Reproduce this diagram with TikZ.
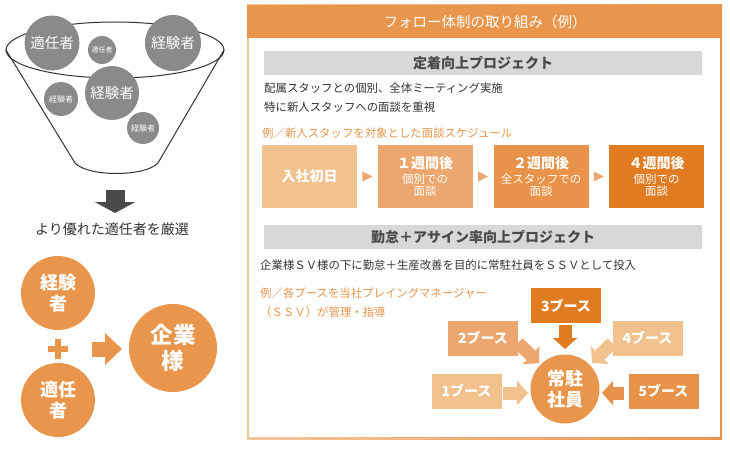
\documentclass[tikz,border=0pt]{standalone}
\usepackage{fontspec}
\setmainfont{Noto Sans CJK JP}
\usetikzlibrary{arrows.meta}
\definecolor{hdr}{HTML}{E9954B}
\definecolor{cA}{HTML}{F2C28E}
\definecolor{cB}{HTML}{EDA66E}
\definecolor{cC}{HTML}{E89349}
\definecolor{cD}{HTML}{E07B22}
\definecolor{tri}{HTML}{EDA66E}
\definecolor{barg}{HTML}{D7D8D8}
\definecolor{darkt}{HTML}{4A4A4A}
\definecolor{bodyt}{HTML}{333333}
\definecolor{gcirc}{HTML}{8A8A8A}
\definecolor{darr}{HTML}{4A4A4A}
\definecolor{frameL}{HTML}{F3C69D}
\definecolor{frameR}{HTML}{E9954B}
\tikzset{
  fsz/.style={font=\fontsize{#1}{#1}\selectfont},
  gc/.style={circle, fill=gcirc, text=white, inner sep=0pt},
  oc/.style={circle, fill=hdr, text=white, inner sep=0pt, align=center},
  sbox/.style={rectangle, inner sep=0pt, text=white, align=center, minimum width=95pt, minimum height=63pt},
  booth/.style={rectangle, inner sep=0pt, text=white, minimum width=70pt, minimum height=35pt, font=\fontsize{14}{16}\selectfont\bfseries},
  gbar/.style={rectangle, fill=barg, inner sep=0pt, minimum width=438pt, minimum height=24pt, text=darkt, font=\fontsize{14}{16}\selectfont\bfseries},
  body/.style={anchor=west, inner sep=0pt, text=bodyt, font=\fontsize{11.4}{13}\selectfont},
  obody/.style={anchor=west, inner sep=0pt, text=hdr, font=\fontsize{11.4}{13}\selectfont},
  barrow/.style={line width=13pt, -{Triangle[width=24pt,length=11pt]}},
}
\begin{document}
\begin{tikzpicture}[x=1pt,y=-1pt]
\useasboundingbox (0,0) rectangle (730,449);
% ---------- funnel ----------
\draw[line width=1pt, bodyt] (115,50) ellipse [x radius=109, y radius=28];
\draw[line width=1pt, bodyt] (6,50) -- (75,163) .. controls (88,177) and (145,177) .. (158,163) -- (224,50);
\node[gc, minimum size=55pt, fsz=14.5] (g1) at (52,43) {適任者};
\node[gc, minimum size=28pt, fsz=7] (g2) at (102,50) {適任者};
\node[gc, minimum size=56pt, fsz=14.5] (g3) at (173,43) {経験者};
\node[gc, minimum size=54pt, fsz=14.5] (g4) at (112,93) {経験者};
\node[gc, minimum size=34pt, fsz=8] (g5) at (61,99) {経験者};
\node[gc, minimum size=32pt, fsz=8] (g6) at (143,128) {経験者};
\coordinate (dtop) at (115,190);
\coordinate (dbot) at (115,213);
\draw[darr, line width=19pt, -{Triangle[width=40pt,length=11pt]}] (dtop) -- (dbot);
\node[inner sep=0pt, text=bodyt, fsz=14] (sel) at (112,229) {より優れた適任者を厳選};
% ---------- left bottom ----------
\node[oc, minimum size=74pt, font=\fontsize{18}{21}\selectfont\bfseries] (ke) at (58,293) {経験\\者};
\node[oc, minimum size=74pt, font=\fontsize{18}{21}\selectfont\bfseries] (te) at (58,400) {適任\\者};
\node[oc, minimum size=88pt, font=\fontsize{22.5}{26}\selectfont\bfseries] (ki) at (173,348) {企業\\様};
\coordinate (plus) at (58,349);
\fill[hdr] ([xshift=-10pt,yshift=3pt]plus) rectangle ([xshift=10pt,yshift=-3pt]plus);
\fill[hdr] ([xshift=-3pt,yshift=10pt]plus) rectangle ([xshift=3pt,yshift=-10pt]plus);
\coordinate (ra) at (92,349);
\coordinate (rb) at (122,349);
\draw[hdr, line width=15pt, -{Triangle[width=31pt,length=17pt]}] (ra) -- (rb);
% ---------- right panel frame ----------
\shade[left color=frameL, right color=frameR] (247,5) rectangle (722,439);
\fill[white] (248.6,6.6) rectangle (720.4,437.4);
\fill[hdr] (247,5) rectangle (722,38);
\node[inner sep=0pt, text=white, fsz=14.5] (title) at (485,22) {フォロー体制の取り組み（例）};
% project 1
\node[gbar] (bar1) at (483,63) {定着向上プロジェクト};
\node[body] (l1) at (264,88) {配属スタッフとの個別、全体ミーティング実施};
\node[body] (l2) at (264,107) {特に新人スタッフへの面談を重視};
\node[obody] (l3) at (262,133) {例／新人スタッフを対象とした面談スケジュール};
\node[sbox, fill=cA, font=\fontsize{14}{16}\selectfont\bfseries] (s1) at (309.5,176.5) {入社初日};
\node[sbox, fill=cB] (s2) at (425,176.5) {{\fontsize{14}{16}\selectfont\bfseries １週間後}\\[3pt]{\fontsize{11.5}{14}\selectfont 個別での}\\{\fontsize{11.5}{14}\selectfont 面談}};
\node[sbox, fill=cC] (s3) at (541,176.5) {{\fontsize{14}{16}\selectfont\bfseries ２週間後}\\[3pt]{\fontsize{11.5}{14}\selectfont 全スタッフでの}\\{\fontsize{11.5}{14}\selectfont 面談}};
\node[sbox, fill=cD] (s4) at (656.5,176.5) {{\fontsize{14}{16}\selectfont\bfseries ４週間後}\\[3pt]{\fontsize{11.5}{14}\selectfont 個別での}\\{\fontsize{11.5}{14}\selectfont 面談}};
\path (s1.east) -- (s2.west) coordinate[midway] (t1);
\path (s2.east) -- (s3.west) coordinate[midway] (t2);
\path (s3.east) -- (s4.west) coordinate[midway] (t3);
\foreach \t in {t1,t2,t3}{
  \fill[tri] ([xshift=-5pt,yshift=5pt]\t) -- ([xshift=5pt]\t) -- ([xshift=-5pt,yshift=-5pt]\t) -- cycle;
}
% project 2
\node[gbar] (bar2) at (483,237) {勤怠＋アサイン率向上プロジェクト};
\node[body] (l4) at (260,265) {企業様ＳＶ様の下に勤怠＋生産改善を目的に常駐社員をＳＳＶとして投入};
\node[obody] (l5) at (260,293) {例／各ブースを当社プレイングマネージャー};
\node[obody] (l6) at (260,312) {（ＳＳＶ）が管理・指導};
\node[circle, fill=hdr, text=white, inner sep=0pt, minimum size=69pt, align=center, font=\fontsize{18}{21}\selectfont\bfseries] (jo) at (565,389) {常駐\\社員};
\node[booth, fill=cD] (b3) at (566,305.5) {3ブース};
\node[booth, fill=cB] (b2) at (483,338) {2ブース};
\node[booth, fill=cA] (b4) at (647.5,338) {4ブース};
\node[booth, fill=cA] (b1) at (466.5,391) {1ブース};
\node[booth, fill=cC] (b5) at (663.5,391) {5ブース};
\coordinate (a3s) at (565,325);
\coordinate (a3e) at (565,349);
\coordinate (a2s) at (518,343);
\coordinate (a2e) at (539,363);
\coordinate (a4s) at (612,343);
\coordinate (a4e) at (592,363);
\coordinate (a1s) at (503,393);
\coordinate (a1e) at (528,393);
\coordinate (a5s) at (624,393);
\coordinate (a5e) at (602,393);
\draw[barrow, cD] (a3s) -- (a3e);
\draw[barrow, cB] (a2s) -- (a2e);
\draw[barrow, cA] (a4s) -- (a4e);
\draw[barrow, cA] (a1s) -- (a1e);
\draw[barrow, cC] (a5s) -- (a5e);
\end{tikzpicture}
\end{document}
